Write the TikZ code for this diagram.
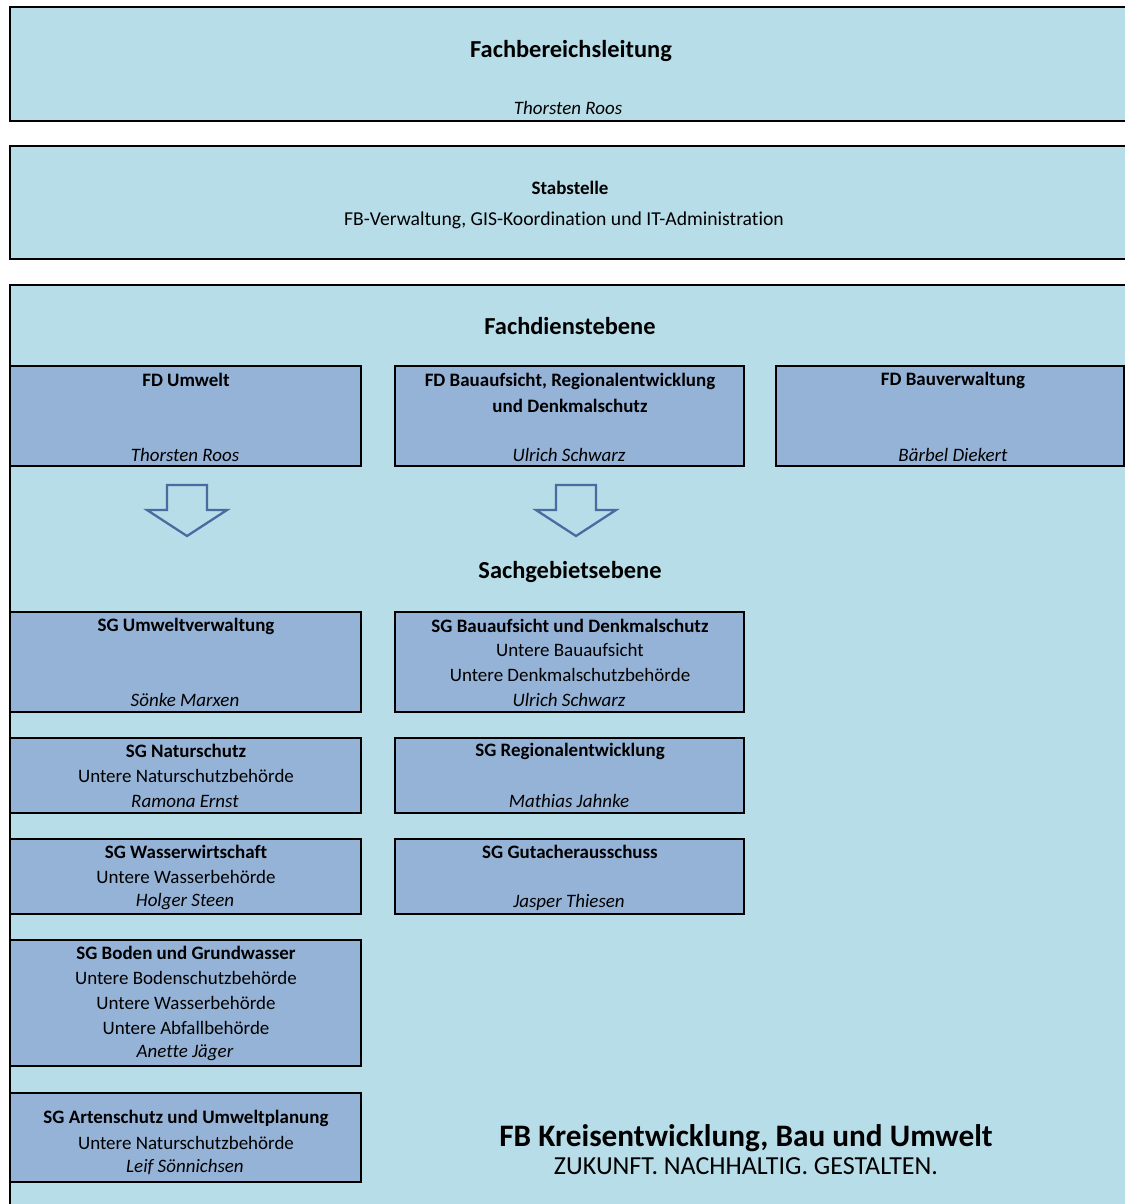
\documentclass[tikz,border=0pt]{standalone}
\usepackage{fontspec}
\setmainfont{Carlito}[Ligatures=NoCommon]
\usetikzlibrary{fit}
\definecolor{levelblue}{RGB}{183,221,232}
\definecolor{unitblue}{RGB}{149,179,215}
\definecolor{arrowblue}{RGB}{70,108,160}
\tikzset{level/.style={draw=black, line width=1.2pt, fill=levelblue, inner sep=0pt}}
\tikzset{unit/.style={draw=black, line width=1.1pt, fill=unitblue, inner sep=0pt}}
\tikzset{txt/.style={inner sep=0pt, font=\fontsize{10.8}{13}\selectfont}}
\tikzset{head/.style={inner sep=0pt, font=\fontsize{10.8}{13}\selectfont\bfseries}}
\tikzset{who/.style={inner sep=0pt, font=\fontsize{10.8}{13}\selectfont\itshape}}
\tikzset{tier/.style={inner sep=0pt, font=\fontsize{13.9}{16}\selectfont\bfseries}}
\tikzset{hollow arrow/.style={draw=arrowblue, line width=1.3pt, line join=miter}}

\begin{document}
\begin{tikzpicture}[x=0.02cm, y=-0.02cm]
            \useasboundingbox (0,0) rectangle (1125,1204);
            \clip (0,0) rectangle (1125,1204);
            \fill[white] (0,0) rectangle (1125,1204);
            \node[level, fit={(10,7) (1140,121)}] (fbl) {};
            \node[tier] (fblt) at (571,51) {Fachbereichsleitung};
            \node[who] (fbln) at (568,108) {Thorsten Roos};
            \node[level, fit={(10,146) (1140,259)}] (stab) {};
            \node[head] (stabt) at (570,188) {Stabstelle};
            \node[txt, font=\fontsize{11.2}{13}\selectfont] (stabx) at (564,220) {FB-Verwaltung, GIS-Koordination und IT-Administration};
            \node[level, fit={(10,285) (1140,1230)}] (fde) {};
            \node[tier] (fdet) at (570,326) {Fachdienstebene};
            \node[unit, fit={(10,366) (361,466)}] (fdu) {};
            \node[head] (fdut) at (186,380) {FD Umwelt};
            \node[who] (fdun) at (185,455) {Thorsten Roos};
            \node[unit, fit={(395,366) (744,466)}] (fdb) {};
            \node[head, align=center] (fdbt) at (570,393) {FD Bauaufsicht, Regionalentwicklung\\[2pt]und Denkmalschutz};
            \node[who] (fdbn) at (569,455) {Ulrich Schwarz};
            \node[unit, fit={(776,366) (1124,466)}] (fdv) {};
            \node[head] (fdvt) at (953,380) {FD Bauverwaltung};
            \node[who] (fdvn) at (953,455) {Bärbel Diekert};
            \draw[hollow arrow] (167,485) -- (207,485) -- (207,510) -- (227,510) -- (187,536) -- (147,510) -- (167,510) -- cycle;
            \draw[hollow arrow] (556,485) -- (596,485) -- (596,510) -- (616,510) -- (576,536) -- (536,510) -- (556,510) -- cycle;
            \node[tier] (sget) at (570,572) {Sachgebietsebene};
            \node[unit, fit={(10,612) (361,712)}] (sguv) {};
            \node[head] (sguvt) at (186,626) {SG Umweltverwaltung};
            \node[who] (sguvn) at (185,700) {Sönke Marxen};
            \node[unit, fit={(10,738) (361,813)}] (sgns) {};
            \node[head] (sgnst) at (186,751) {SG Naturschutz};
            \node[txt] (sgnsx) at (186,776) {Untere Naturschutzbehörde};
            \node[who] (sgnsn) at (185,801) {Ramona Ernst};
            \node[unit, fit={(10,839) (361,914)}] (sgww) {};
            \node[head] (sgwwt) at (186,852) {SG Wasserwirtschaft};
            \node[txt] (sgwwx) at (186,877) {Untere Wasserbehörde};
            \node[who] (sgwwn) at (185,902) {Holger Steen};
            \node[unit, fit={(10,940) (361,1066)}] (sgbg) {};
            \node[head] (sgbgt) at (186,953) {SG Boden und Grundwasser};
            \node[txt] (sgbgx) at (186,978) {Untere Bodenschutzbehörde};
            \node[txt] (sgbgy) at (186,1003) {Untere Wasserbehörde};
            \node[txt] (sgbgz) at (186,1028) {Untere Abfallbehörde};
            \node[who] (sgbgn) at (185,1053) {Anette Jäger};
            \node[unit, fit={(10,1093) (361,1182)}] (sgau) {};
            \node[head] (sgaut) at (186,1118) {SG Artenschutz und Umweltplanung};
            \node[txt] (sgaux) at (186,1143) {Untere Naturschutzbehörde};
            \node[who] (sgaun) at (185,1167) {Leif Sönnichsen};
            \node[unit, fit={(395,612) (744,712)}] (sgbd) {};
            \node[head] (sgbdt) at (570,626) {SG Bauaufsicht und Denkmalschutz};
            \node[txt] (sgbdx) at (570,650) {Untere Bauaufsicht};
            \node[txt] (sgbdy) at (570,675) {Untere Denkmalschutzbehörde};
            \node[who] (sgbdn) at (569,700) {Ulrich Schwarz};
            \node[unit, fit={(395,738) (744,813)}] (sgre) {};
            \node[head] (sgret) at (570,751) {SG Regionalentwicklung};
            \node[who] (sgren) at (569,801) {Mathias Jahnke};
            \node[unit, fit={(395,839) (744,914)}] (sgga) {};
            \node[head] (sggat) at (570,852) {SG Gutacherausschuss};
            \node[who] (sggan) at (569,902) {Jasper Thiesen};
            \node[inner sep=0pt, font=\fontsize{17.8}{20}\selectfont\bfseries] (fbkb) at (746,1138) {FB Kreisentwicklung, Bau und Umwelt};
            \node[inner sep=0pt, font=\fontsize{14.8}{17}\selectfont] (motto) at (746,1166) {ZUKUNFT. NACHHALTIG. GESTALTEN.};
        \end{tikzpicture}
\end{document}
